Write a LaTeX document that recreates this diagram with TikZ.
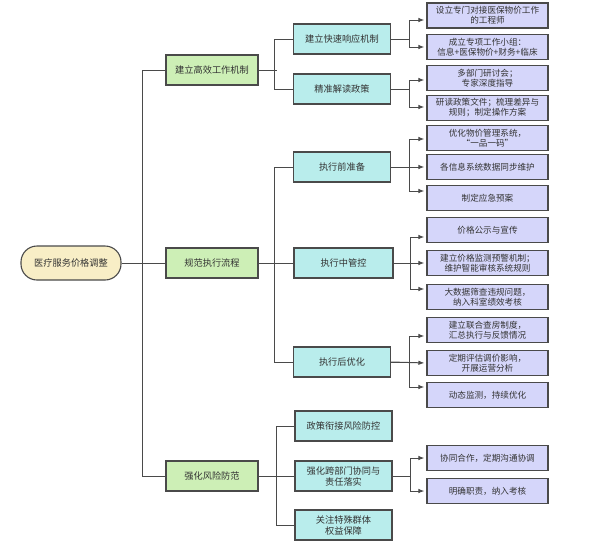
\documentclass[tikz,border=0pt]{standalone}
\usepackage{fontspec}
\newfontfamily\cjk{Noto Sans CJK SC}
\usetikzlibrary{arrows.meta}
\definecolor{rootfill}{HTML}{F8EEC6}
\definecolor{lonefill}{HTML}{CDEFB6}
\definecolor{ltwofill}{HTML}{B9EDEC}
\definecolor{lthreefill}{HTML}{D5D6FA}
\definecolor{edgecol}{HTML}{4A4A4A}
\definecolor{txtcol}{HTML}{333333}
\tikzset{
  x=1pt, y=-1pt,
  base/.style={draw=edgecol, line width=1.1pt, inner sep=0pt, align=center, text=txtcol},
  rootbox/.style={base, fill=rootfill, rounded corners=16pt, minimum width=100pt, minimum height=34pt, font=\cjk\fontsize{9.2}{11}\selectfont},
  lone/.style={base, fill=lonefill, minimum width=92pt, minimum height=30pt, font=\cjk\fontsize{9.2}{11}\selectfont},
  ltwo/.style={base, fill=ltwofill, minimum width=97pt, minimum height=30pt, font=\cjk\fontsize{9.2}{11}\selectfont},
  lthree/.style={base, fill=lthreefill, minimum width=121pt, minimum height=25pt, font=\cjk\fontsize{8.6}{10}\selectfont},
  link/.style={draw=edgecol, line width=1pt},
  arr/.style={link, -{Latex[length=6pt,width=4.5pt]}, shorten >=2pt},
}
\begin{document}
\begin{tikzpicture}
\useasboundingbox (0,0) rectangle (600,547);
% root
\node[rootbox] (root) at (71,263) {医疗服务价格调整};
% level 1
\node[lone] (A) at (212,70) {建立高效工作机制};
\node[lone] (B) at (212,263) {规范执行流程};
\node[lone] (C) at (212,476) {强化风险防范};
% level 2
\node[ltwo] (A1) at (342,39) {建立快速响应机制};
\node[ltwo] (A2) at (342,89) {精准解读政策};
\node[ltwo] (B1) at (342,167) {执行前准备};
\node[ltwo, minimum width=99pt] (B2) at (343.5,263) {执行中管控};
\node[ltwo] (B3) at (342,362) {执行后优化};
\node[ltwo] (C1) at (343.5,426) {政策衔接风险防控};
\node[ltwo] (C2) at (343.5,476) {强化跨部门协同与\\责任落实};
\node[ltwo] (C3) at (343.5,525) {关注特殊群体\\权益保障};
% level 3
\node[lthree] (a11) at (487.5,15.5) {设立专门对接医保物价工作\\的工程师};
\node[lthree] (a12) at (487.5,47) {成立专项工作小组：\\信息+医保物价+财务+临床};
\node[lthree] (a21) at (487.5,78) {多部门研讨会；\\专家深度指导};
\node[lthree] (a22) at (487.5,108) {研读政策文件；梳理差异与\\规则；制定操作方案};
\node[lthree] (b11) at (487.5,138) {优化物价管理系统，\\“一品一码”};
\node[lthree] (b12) at (487.5,167) {各信息系统数据同步维护};
\node[lthree] (b13) at (487.5,198) {制定应急预案};
\node[lthree] (b21) at (487.5,230) {价格公示与宣传};
\node[lthree] (b22) at (487.5,263) {建立价格监测预警机制；\\维护智能审核系统规则};
\node[lthree] (b23) at (487.5,297) {大数据筛查违规问题，\\纳入科室绩效考核};
\node[lthree] (b31) at (487.5,330) {建立联合查房制度，\\汇总执行与反馈情况};
\node[lthree] (b32) at (487.5,363) {定期评估调价影响，\\开展运营分析};
\node[lthree] (b33) at (487.5,395) {动态监测，持续优化};
\node[lthree] (c21) at (487.5,458) {协同合作，定期沟通协调};
\node[lthree] (c22) at (487.5,491) {明确职责，纳入考核};
% root -> level 1
\draw[link] (root.east) -- (B.west);
\draw[link] (A.west) -- ++(-23,0) |- (C.west);
% level 1 -> level 2
\draw[link] (A.east) -- ++(18,0);
\draw[link] (A1.west) -- ++(-18,0) |- (A2.west);
\draw[link] (B.east) -- (B2.west);
\draw[link] (B1.west) -- ++(-18,0) |- (B3.west);
\draw[link] (C.east) -- (C2.west);
\draw[link] (C1.west) -- ++(-18,0) |- (C3.west);
% level 2 -> level 3
\draw[arr] (A1.east) -- ++(18,0) |- ([yshift=-4.5pt]a11.west);
\draw[arr] (A1.east) -- ++(18,0) |- (a12.west);
\draw[arr] (A2.east) -- ++(18,0) |- ([yshift=-2pt]a21.west);
\draw[arr] (A2.east) -- ++(18,0) |- ([yshift=1pt]a22.west);
\draw[arr] (B1.east) -- ++(18,0) |- ([yshift=-1pt]b11.west);
\draw[arr] (B1.east) -- (b12.west);
\draw[arr] (B1.east) -- ++(18,0) |- ([yshift=7pt]b13.west);
\draw[arr] (B2.east) -- ++(16.5,0) |- ([yshift=-7pt]b21.west);
\draw[arr] (B2.east) -- (b22.west);
\draw[arr] (B2.east) -- ++(16.5,0) |- ([yshift=8pt]b23.west);
\draw[arr] (B3.east) -- ++(18,0) |- ([yshift=-6pt]b31.west);
\draw[arr] (B3.east) -- (b32.west);
\draw[arr] (B3.east) -- ++(18,0) |- ([yshift=8pt]b33.west);
\draw[arr] (C2.east) -- ++(18,0) |- (c21.west);
\draw[arr] (C2.east) -- ++(18,0) |- (c22.west);
\end{tikzpicture}
\end{document}
